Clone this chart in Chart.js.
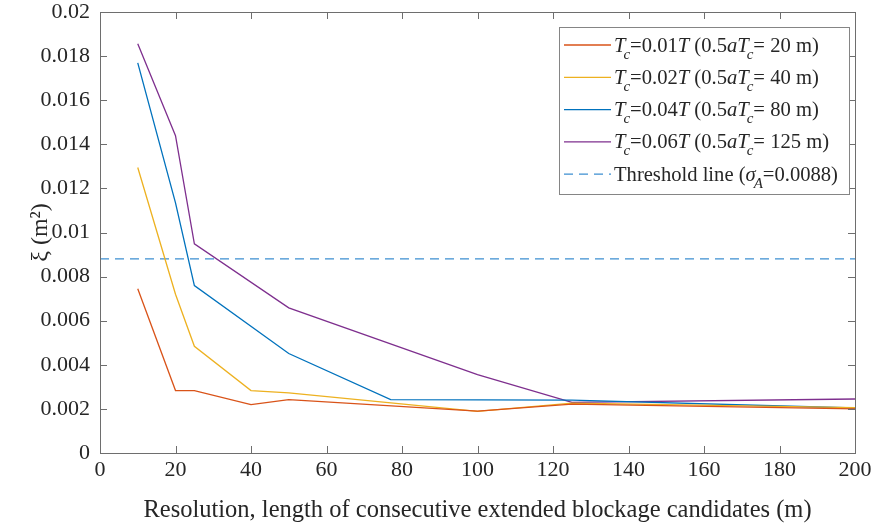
<!DOCTYPE html>
<html>
<head>
<meta charset="utf-8">
<title>xi vs resolution</title>
<script src="https://cdn.jsdelivr.net/npm/chart.js@4.4.1/dist/chart.umd.min.js"></script>
<style>
  html, body { margin: 0; padding: 0; background: #fff; }
  canvas { display: block; }
</style>
</head>
<body>
<canvas id="xiChart" width="872" height="532"></canvas>
<script>
// resolution (m) and xi (m^2), one pair of arrays per Tc
const res01 = [10, 20, 25, 40, 50, 100, 125, 200];
const xi01 = [0.00745, 0.00283, 0.00283, 0.00219, 0.00242, 0.00190, 0.00222, 0.00200];

const res02 = [10, 20, 25, 40, 50, 100, 125, 200];
const xi02 = [0.01295, 0.00720, 0.00484, 0.00283, 0.00273, 0.00189, 0.00226, 0.00206];

const res04 = [10, 20, 25, 50, 77, 125, 200];
const xi04 = [0.01769, 0.01134, 0.00759, 0.00451, 0.00242, 0.00240, 0.00204];

const res06 = [10, 20, 25, 50, 100, 125, 200];
const xi06 = [0.01856, 0.01439, 0.00949, 0.00658, 0.00355, 0.00230, 0.00245];

const thresholdRes = [0, 200];
const thresholdXi = 0.0088;

// legend bits
const tcFactors = ['0.01', '0.02', '0.04', '0.06'];
const halfDist = ['20', '40', '80', '125'];
const thresholdText = '0.0088';

const xTickLabels = ['0', '20', '40', '60', '80', '100', '120', '140', '160', '180', '200'];
const yTickLabels = ['0', '0.002', '0.004', '0.006', '0.008', '0.01', '0.012', '0.014', '0.016', '0.018', '0.02'];

const colors = ['#D95319', '#EDB120', '#0072BD', '#7E2F8E'];
const serif = "'Liberation Serif', 'Times New Roman', serif";
const textColor = '#262626';
const frameColor = '#6e6e6e';

function toPoints(xs, ys) {
    return xs.map((x, i) => ({ x: x, y: ys[i] }));
}

function getDatasets() {
    const series = [[res01, xi01], [res02, xi02], [res04, xi04], [res06, xi06]];
    const sets = series.map((s, i) => ({
        data: toPoints(s[0], s[1]),
        borderColor: colors[i],
        borderWidth: 1.3,
        pointRadius: 0,
        fill: false,
        tension: 0
    }));
    sets.push({
        data: thresholdRes.map(x => ({ x: x, y: thresholdXi })),
        borderColor: '#3d8fd1',
        borderWidth: 1.3,
        borderDash: [9, 6],
        pointRadius: 0,
        fill: false
    });
    return sets;
}

// rich text: [text, style] where style has 'i' (italic) and/or 'sub'
const legendParts = tcFactors.map((f, i) => [
    ['T', 'i'], ['c', 'i sub'], ['=' + f, ''], ['T', 'i'], [' (0.5', ''],
    ['aT', 'i'], ['c', 'i sub'], ['= ' + halfDist[i] + ' m)', '']
]);
legendParts.push([['Threshold line (', ''], ['σ', 'i'], ['A', 'i sub'], ['=' + thresholdText + ')', '']]);

function drawRich(ctx, parts, x, baseline) {
    parts.forEach(p => {
        const italic = p[1].indexOf('i') >= 0;
        const sub = p[1].indexOf('sub') >= 0;
        const size = sub ? 15 : 20.6;
        ctx.font = (italic ? 'italic ' : '') + size + 'px ' + serif;
        if (sub) x -= 2;
        ctx.fillText(p[0], x, baseline + (sub ? 7 : 0));
        x += ctx.measureText(p[0]).width;
    });
}

const legendBox = {
    id: 'legendBox',
    afterDraw(chart) {
        const ctx = chart.ctx;
        const area = chart.chartArea;
        const w = 290, h = 167;
        const right = area.right - 6;
        const top = area.top + 15;
        const left = right - w;
        ctx.save();
        ctx.fillStyle = '#fff';
        ctx.fillRect(left, top, w, h);
        ctx.strokeStyle = '#858585';
        ctx.lineWidth = 1;
        ctx.strokeRect(Math.round(left) + 0.5, Math.round(top) + 0.5, w, h);
        ctx.textAlign = 'left';
        ctx.textBaseline = 'alphabetic';
        chart.data.datasets.forEach((ds, i) => {
            const y = top + 18 + i * 32.3;
            ctx.strokeStyle = ds.borderColor;
            ctx.lineWidth = ds.borderWidth;
            ctx.setLineDash(ds.borderDash || []);
            ctx.beginPath();
            ctx.moveTo(left + 5, y);
            ctx.lineTo(left + 52, y);
            ctx.stroke();
            ctx.setLineDash([]);
            ctx.fillStyle = textColor;
            drawRich(ctx, legendParts[i], left + 55, y + 6.5);
        });
        ctx.restore();
    }
};

// box around the axes with inward ticks on all four sides
const axesFrame = {
    id: 'axesFrame',
    afterDatasetsDraw(chart) {
        const ctx = chart.ctx;
        const a = chart.chartArea;
        const xs = chart.scales.x, ys = chart.scales.y;
        const len = 7;
        ctx.save();
        ctx.strokeStyle = frameColor;
        ctx.lineWidth = 1;
        ctx.beginPath();
        xs.ticks.forEach(t => {
            const px = Math.round(xs.getPixelForValue(t.value)) + 0.5;
            ctx.moveTo(px, a.bottom); ctx.lineTo(px, a.bottom - len);
            ctx.moveTo(px, a.top); ctx.lineTo(px, a.top + len);
        });
        ys.ticks.forEach(t => {
            const py = Math.round(ys.getPixelForValue(t.value)) + 0.5;
            ctx.moveTo(a.left, py); ctx.lineTo(a.left + len, py);
            ctx.moveTo(a.right, py); ctx.lineTo(a.right - len, py);
        });
        ctx.stroke();
        ctx.strokeRect(Math.round(a.left) + 0.5, Math.round(a.top) + 0.5,
            Math.round(a.right - a.left), Math.round(a.bottom - a.top));
        ctx.restore();
    }
};

const ctxEl = document.getElementById('xiChart');
const xiChart = new Chart(ctxEl, {
    type: 'line',
    data: { datasets: getDatasets() },
    plugins: [axesFrame, legendBox],
    options: {
        responsive: false,
        devicePixelRatio: 1,
        animation: false,
        events: [],
        layout: { padding: { left: 0, top: 12, right: 17, bottom: 0 } },
        plugins: {
            legend: { display: false },
            tooltip: { enabled: false }
        },
        scales: {
            x: {
                type: 'linear',
                min: 0,
                max: 200,
                afterFit: (scale) => {
                    scale.height = 79;
                    scale.paddingLeft = 0;
                    scale.paddingRight = 0;
                },
                grid: { display: false, drawTicks: false, tickLength: 0 },
                border: { display: false },
                ticks: {
                    stepSize: 20,
                    maxRotation: 0,
                    padding: 4,
                    color: textColor,
                    font: { family: serif, size: 22 },
                    callback: (v, i) => xTickLabels[i]
                },
                title: {
                    display: true,
                    text: 'Resolution, length of consecutive extended blockage candidates (m)',
                    color: textColor,
                    font: { family: serif, size: 24.5 },
                    padding: { top: 0, bottom: 7 }
                }
            },
            y: {
                type: 'linear',
                min: 0,
                max: 0.02,
                afterFit: (scale) => {
                    scale.width = 100;
                    scale.paddingTop = 0;
                    scale.paddingBottom = 0;
                },
                grid: { display: false, drawTicks: false, tickLength: 0 },
                border: { display: false },
                ticks: {
                    stepSize: 0.002,
                    padding: 10,
                    color: textColor,
                    font: { family: serif, size: 22 },
                    callback: (v, i) => yTickLabels[i]
                },
                title: {
                    display: true,
                    text: 'ξ (m²)',
                    color: textColor,
                    font: { family: serif, size: 24 },
                    padding: { top: 26, bottom: 0 }
                }
            }
        }
    }
});
</script>
</body>
</html>
